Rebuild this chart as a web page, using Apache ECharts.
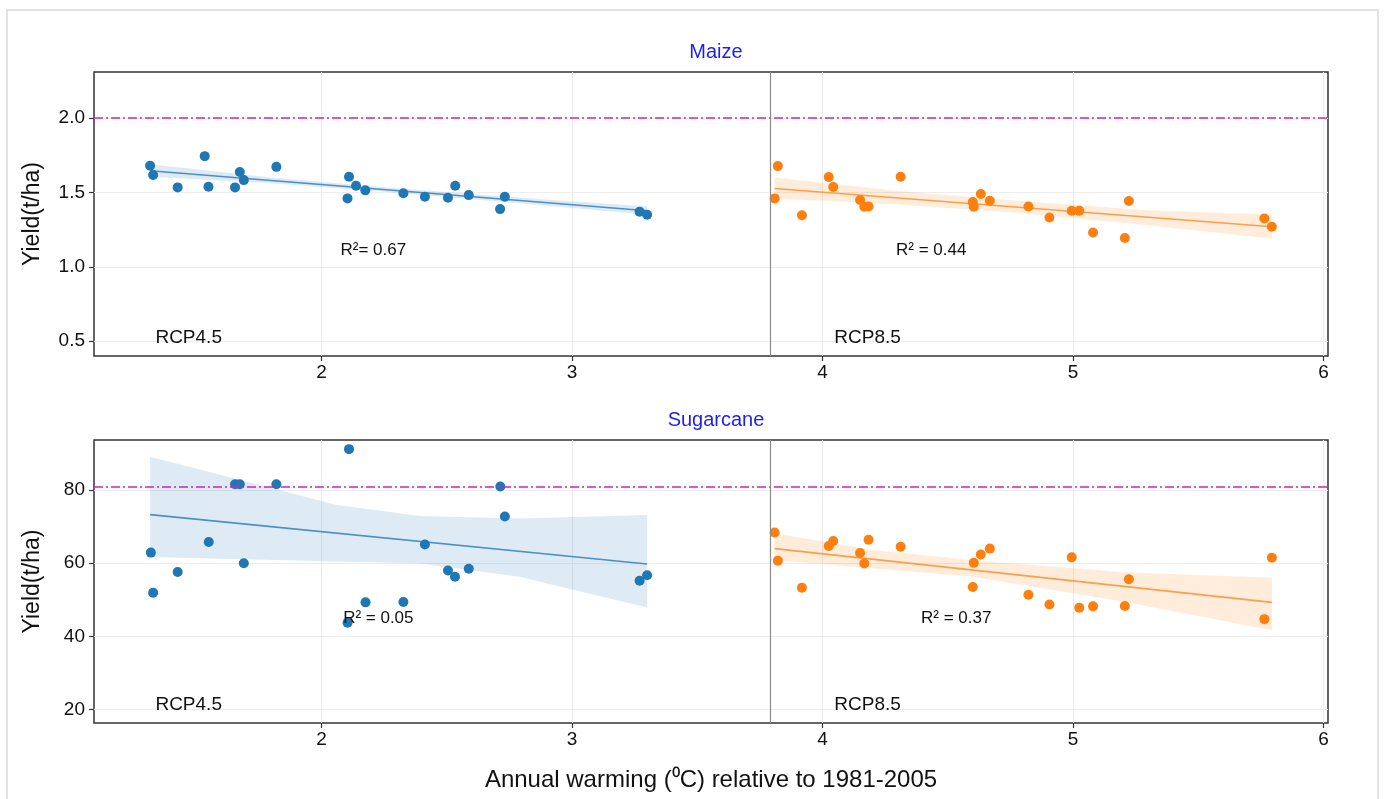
<!DOCTYPE html>
<html><head><meta charset="utf-8">
<script src="https://cdn.jsdelivr.net/npm/echarts@6/dist/echarts.min.js"></script>
<style>html,body{margin:0;padding:0;background:#fff}#c{width:1385px;height:799px}</style>
</head><body><div id="c"></div>
<script>
// ---- data ----
const warming45 = [1.316,1.328,1.426,1.534,1.549,1.655,1.674,1.690,1.820,2.104,2.110,2.138,2.175,2.327,2.413,2.505,2.534,2.588,2.713,2.732,3.270,3.300];
const maize45   = [1.679,1.617,1.534,1.744,1.538,1.534,1.637,1.583,1.672,1.460,1.605,1.545,1.514,1.494,1.471,1.464,1.545,1.482,1.388,1.471,1.370,1.350];
const warming85 = [3.809,3.822,3.918,4.025,4.043,4.150,4.167,4.184,4.312,4.600,4.604,4.632,4.668,4.822,4.906,4.995,5.025,5.080,5.207,5.223,5.764,5.794];
const maize85   = [1.460,1.677,1.346,1.603,1.536,1.449,1.404,1.406,1.605,1.435,1.404,1.489,1.444,1.406,1.332,1.377,1.377,1.231,1.193,1.442,1.325,1.269];
const caneWarming45 = [1.319,1.328,1.426,1.550,1.655,1.674,1.690,1.820,2.104,2.110,2.176,2.327,2.413,2.505,2.533,2.588,2.714,2.732,3.270,3.300];
const cane45        = [62.9,51.9,57.6,65.8,81.6,81.6,60.0,81.6,43.7,91.2,49.3,49.4,65.1,58.0,56.3,58.5,81.0,72.8,55.2,56.7];
const cane85        = [68.4,60.7,53.3,64.7,66.1,62.8,59.9,66.4,64.5,53.5,60.1,62.4,64.0,51.4,48.7,61.6,47.8,48.2,48.3,55.6,44.7,61.5];

// regression lines (end points) and confidence bands
const maize45Fit = [[1.316,1.646],[3.300,1.377]];
const maize85Fit = [[3.809,1.527],[5.794,1.269]];
const cane45Fit  = [[1.316,73.3],[3.300,59.8]];
const cane85Fit  = [[3.809,64.0],[5.794,49.3]];
const maize45BandX = [1.316,1.8,2.3,2.8,3.3];
const maize45Upper = [1.690,1.600,1.528,1.465,1.405];
const maize45Lower = [1.605,1.562,1.498,1.425,1.350];
const maize85BandX = [3.809,4.3,4.8,5.3,5.794];
const maize85Upper = [1.600,1.51,1.44,1.38,1.350];
const maize85Lower = [1.460,1.42,1.36,1.28,1.190];
const cane45BandX = [1.316,2.062,2.394,2.79,3.3];
const cane45Upper = [89.1,75.9,72.9,72.2,73.2];
const cane45Lower = [61.7,60.5,59.9,56.3,47.9];
const cane85BandX = [3.809,4.2,4.6,5.2,5.794];
const cane85Upper = [68.2,63.6,60.8,57.5,56.0];
const cane85Lower = [60.8,58.6,56.3,49.5,41.7];

const referenceYield = [2.0, 81];     // maize, sugarcane (dash-dot lines)
const scenarioSplit = 3.79;           // vertical separator
const xTicks = [2,3,4,5,6];
const maizeTicks = [0.5,1.0,1.5,2.0];
const caneTicks = [20,40,60,80];
const panelTitles = ['Maize','Sugarcane'];
const scenarioLabels = [[1.47,'RCP4.5'],[4.18,'RCP8.5']];
const r2Maize = [[2.207,1.112,'R\u00B2= 0.67'],[4.434,1.112,'R\u00B2 = 0.44']];
const r2Cane  = [[2.227,45.0,'R\u00B2 = 0.05'],[4.534,45.0,'R\u00B2 = 0.37']];

// ---- styling ----
const BLUE='#1f77b4', ORANGE='#ff7f0e';
const FONT='Liberation Sans, Arial, sans-serif';
const TXT='#111';

function zip(a,b){return a.map((v,i)=>[v,b[i]]);}
function band(ai, xs, up, lo, fill){
  return {type:'custom', xAxisIndex:ai, yAxisIndex:ai, silent:true, z:1,
    data:[[xs[0], lo[0]]],
    renderItem:(p,api)=>{
      const pts=[];
      for(let i=0;i<xs.length;i++) pts.push(api.coord([xs[i],up[i]]));
      for(let i=xs.length-1;i>=0;i--) pts.push(api.coord([xs[i],lo[i]]));
      return {type:'polygon', shape:{points:pts}, style:{fill:fill}};
    }};
}
function fitLine(ai, d, color){
  return {type:'line', xAxisIndex:ai, yAxisIndex:ai, data:d, symbol:'none', silent:true, z:2,
    lineStyle:{color:color, width:1.6}};
}
function pts(ai, d, color){
  return {type:'scatter', xAxisIndex:ai, yAxisIndex:ai, data:d, symbolSize:10, z:3,
    itemStyle:{color:color, opacity:1}};
}
function labels(ai, d, size){
  return {type:'custom', xAxisIndex:ai, yAxisIndex:ai, silent:true, z:4,
    data:d.map(r=>[r[0], r[1]]),
    renderItem:(p,api)=>{
      const c = api.coord([api.value(0), api.value(1)]);
      return {type:'text', x:c[0], y:c[1],
        style:{text:d[p.dataIndex][2], fill:TXT, font:size+'px '+FONT, align:'center', verticalAlign:'middle'}};
    }};
}
function refLines(ai, yv){
  return {type:'line', xAxisIndex:ai, yAxisIndex:ai, data:[], silent:true,
    markLine:{symbol:'none', silent:true, label:{show:false}, animation:false,
      data:[
        {yAxis:yv, lineStyle:{color:'#cc22cc', width:1.6, type:[9,3,2,3]}},
        {xAxis:scenarioSplit, lineStyle:{color:'#8a8a8a', width:1.2, type:'solid'}}
      ]}};
}
function xAxis(gi){
  return {type:'value', gridIndex:gi, min:1.092, max:6.018,
    axisLine:{show:false},
    axisTick:{show:true, customValues:xTicks, length:5, lineStyle:{color:'#333', width:1.2}},
    axisLabel:{customValues:xTicks, color:TXT, fontSize:19, fontFamily:FONT, margin:7},
    splitLine:{show:true, lineStyle:{color:'#ebebeb', width:1}},
    name: gi===1 ? 'Annual warming (\u2070C) relative to 1981-2005' : '',
    nameLocation:'middle', nameGap:45,
    nameTextStyle:{color:TXT, fontSize:24, fontFamily:FONT}};
}
function yAxis(gi, min, max, ticks, fmt){
  return {type:'value', gridIndex:gi, min:min, max:max,
    axisLine:{show:false},
    axisTick:{show:true, customValues:ticks, length:5, lineStyle:{color:'#333', width:1.2}},
    axisLabel:{customValues:ticks, color:TXT, fontSize:19, fontFamily:FONT, margin:9, formatter:fmt},
    splitLine:{show:true, lineStyle:{color:'#ededed', width:1}},
    name:'Yield(t/ha)', nameLocation:'middle', nameGap:50,
    nameTextStyle:{color:TXT, fontSize:23, fontFamily:FONT}};
}

const chart = echarts.init(document.getElementById('c'), null, {renderer:'canvas'});
const option = {
  animation:false,
  backgroundColor:'#fff',
  title: panelTitles.map((t,i)=>({text:t, left:711, textAlign:'center', top: i===0 ? 37 : 405,
    textStyle:{color:'#1f1fe6', fontSize:20, fontWeight:'normal', fontFamily:FONT}})),
  graphic:[{type:'rect', shape:{x:7, y:10, width:1371, height:800}, style:{fill:'none', stroke:'#dadada', lineWidth:1.5}, silent:true}],
  grid:[
    {left:94, top:72, width:1234, height:284, show:true, borderColor:'#333', borderWidth:1.5, backgroundColor:'#fff'},
    {left:94, top:440, width:1234, height:283, show:true, borderColor:'#333', borderWidth:1.5, backgroundColor:'#fff'}
  ],
  xAxis:[xAxis(0), xAxis(1)],
  yAxis:[
    yAxis(0, 0.40, 2.31, maizeTicks, v=>v.toFixed(1)),
    yAxis(1, 16.3, 93.7, caneTicks, v=>String(Math.round(v)))
  ],
  series:[
    // maize panel
    band(0, maize45BandX, maize45Upper, maize45Lower, 'rgba(31,119,180,0.15)'),
    band(0, maize85BandX, maize85Upper, maize85Lower, 'rgba(255,127,14,0.15)'),
    fitLine(0, maize45Fit, '#4a8fcb'),
    fitLine(0, maize85Fit, '#fd9e4a'),
    pts(0, zip(warming45, maize45), BLUE),
    pts(0, zip(warming85, maize85), ORANGE),
    refLines(0, referenceYield[0]),
    labels(0, scenarioLabels.map(s=>[s[0],0.52,s[1]]), 19),
    labels(0, r2Maize, 17),
    // sugarcane panel
    band(1, cane45BandX, cane45Upper, cane45Lower, 'rgba(31,119,180,0.15)'),
    band(1, cane85BandX, cane85Upper, cane85Lower, 'rgba(255,127,14,0.15)'),
    fitLine(1, cane45Fit, '#4a8fcb'),
    fitLine(1, cane85Fit, '#fd9e4a'),
    pts(1, zip(caneWarming45, cane45), BLUE),
    pts(1, zip(warming85, cane85), ORANGE),
    refLines(1, referenceYield[1]),
    labels(1, scenarioLabels.map(s=>[s[0],21.4,s[1]]), 19),
    labels(1, r2Cane, 17)
  ]
};
chart.setOption(option);
</script></body></html>
